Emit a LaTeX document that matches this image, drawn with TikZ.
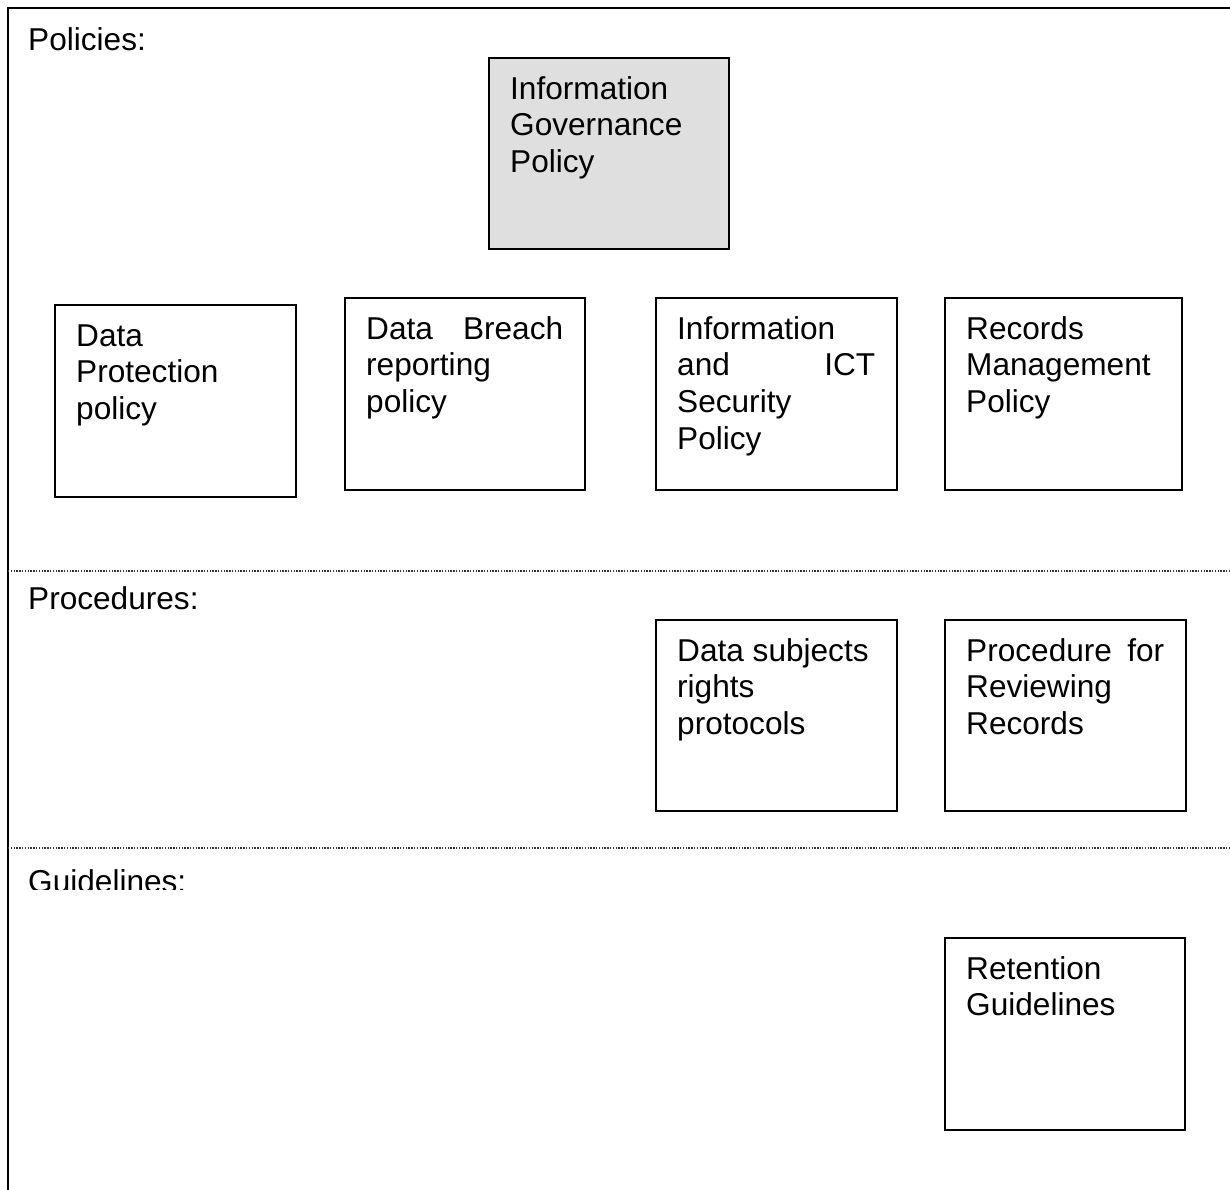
\documentclass[tikz,border=0pt]{standalone}
\usepackage{fontspec}
\setmainfont{Liberation Sans}
\definecolor{igfill}{RGB}{223,223,223}
\definecolor{dotcol}{RGB}{50,50,50}
\begin{document}
\begin{tikzpicture}[x=1pt,y=-1pt,
  pbox/.style={draw=black, line width=1.7pt, anchor=north west, inner sep=0pt},
  txt/.style={font=\fontsize{31.6}{36.6}\selectfont, inner sep=0pt, anchor=north west, align=left},
  lbl/.style={font=\fontsize{31.6}{36.6}\selectfont, inner sep=0pt, anchor=base west},
  frame/.style={line width=2.6pt, black},
  sep/.style={line width=1.3pt, dotcol, dash pattern=on 1.3pt off 1.5pt}]
\useasboundingbox (0,0) rectangle (1230,1189);
% frame
\coordinate (ftr) at (1231,8);
\coordinate (ftl) at (8,8);
\coordinate (fbl) at (8,1190);
\draw[frame] (ftr) -- (ftl) -- (fbl);
% separators
\coordinate (s1a) at (8,571); \coordinate (s1b) at (1230,571);
\coordinate (s2a) at (8,848); \coordinate (s2b) at (1230,848);
\draw[sep] (s1a) -- (s1b);
\draw[sep] (s2a) -- (s2b);
% section labels
\node[lbl] (lpol) at (28,50) {Policies:};
\node[lbl] (lpro) at (28,609) {Procedures:};
\begin{scope}
  \clip (10,850) rectangle (400,889);
  \node[lbl] (lgui) at (28,892) {Guidelines:};
\end{scope}
% boxes
\node[pbox, fill=igfill, minimum width=240pt, minimum height=191pt] (igp) at (488,57) {};
\node[pbox, minimum width=241pt, minimum height=192pt] (dpp) at (54,304) {};
\node[pbox, minimum width=240pt, minimum height=192pt] (dbr) at (344,297) {};
\node[pbox, minimum width=241pt, minimum height=192pt] (ict) at (655,297) {};
\node[pbox, minimum width=237pt, minimum height=192pt] (rmp) at (944,297) {};
\node[pbox, minimum width=241pt, minimum height=191pt] (dsr) at (655,619) {};
\node[pbox, minimum width=241pt, minimum height=191pt] (prr) at (944,619) {};
\node[pbox, minimum width=240pt, minimum height=192pt] (rg) at (944,937) {};
% box texts
\node[txt] (tigp) at ([shift={(22pt,-19pt)}]igp.north west) {\rule{0pt}{23pt}Information\\Governance\\Policy};
\node[txt] (tdpp) at ([shift={(22pt,-19pt)}]dpp.north west) {\rule{0pt}{23pt}Data\\Protection\\policy};
\node[txt] (tdbr) at ([shift={(22pt,-19pt)}]dbr.north west) {\rule{0pt}{23pt}\hbox to 197pt{Data\hfill Breach}\\reporting\\policy};
\node[txt] (tict) at ([shift={(22pt,-19pt)}]ict.north west) {\rule{0pt}{23pt}Information\\\hbox to 198pt{and\hfill ICT}\\Security\\Policy};
\node[txt] (trmp) at ([shift={(22pt,-19pt)}]rmp.north west) {\rule{0pt}{23pt}Records\\Management\\Policy};
\node[txt] (tdsr) at ([shift={(22pt,-19pt)}]dsr.north west) {\rule{0pt}{23pt}Data subjects\\rights\\protocols};
\node[txt] (tprr) at ([shift={(22pt,-19pt)}]prr.north west) {\rule{0pt}{23pt}\hbox to 198pt{Procedure\hfill for}\\Reviewing\\Records};
\node[txt] (trg) at ([shift={(22pt,-19pt)}]rg.north west) {\rule{0pt}{23pt}Retention\\Guidelines};
\end{tikzpicture}
\end{document}
